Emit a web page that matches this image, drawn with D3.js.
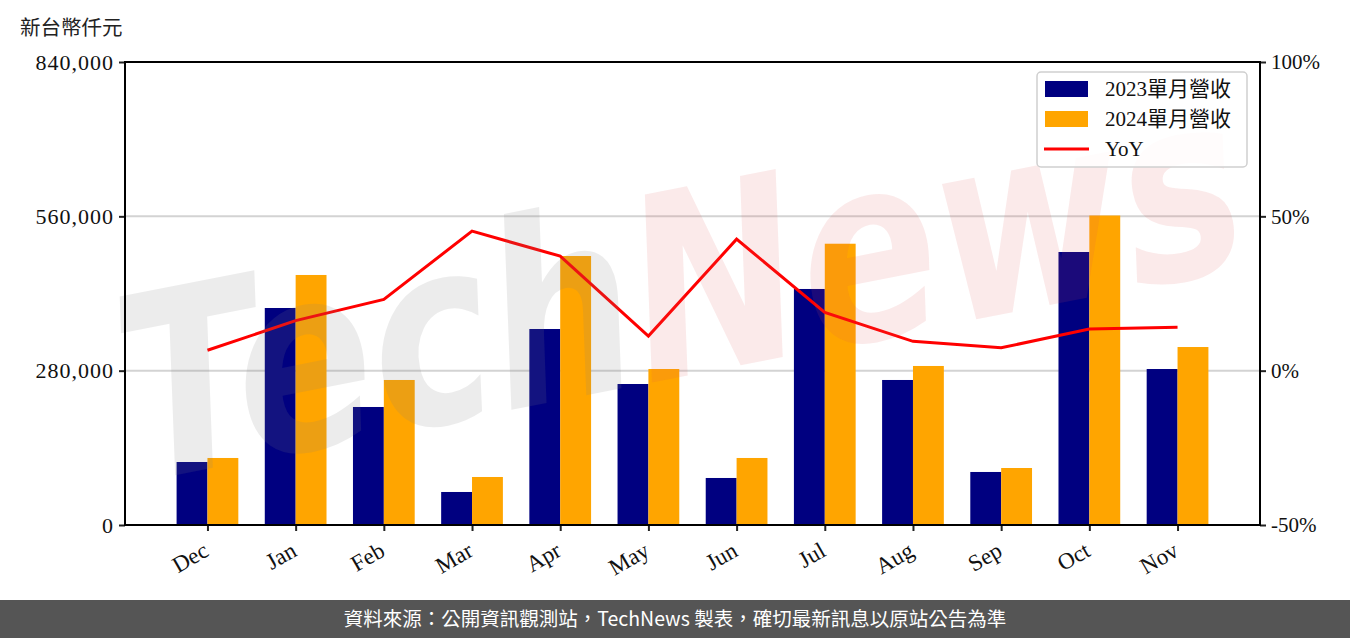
<!DOCTYPE html>
<html>
<head>
<meta charset="utf-8">
<script src="https://cdn.jsdelivr.net/npm/d3@7"></script>
<style>
  html, body { margin: 0; padding: 0; background: #fff; }
  svg { display: block; }
</style>
</head>
<body>
<svg id="chart" width="1350" height="638"></svg>
<script>
const categories = ["Dec","Jan","Feb","Mar","Apr","May","Jun","Jul","Aug","Sep","Oct","Nov"];
const rev2023 = [114300, 393700, 214100, 59900, 355600, 255800, 85300, 428200, 263100, 96200, 495300, 283000];
const rev2024 = [121600, 453600, 263100, 87100, 488000, 283000, 121600, 510300, 288500, 103400, 561500, 322900];
const yoy = [6.6, 16.2, 23.1, 45.2, 37.1, 11.2, 42.6, 18.9, 9.5, 7.4, 13.5, 14.1];
const leftTicks = [0, 280000, 560000, 840000];
const rightTicks = [-50, 0, 50, 100];
const seriesNames = ["2023單月營收", "2024單月營收", "YoY"];
const unitLabel = "新台幣仟元";
const footerText = "資料來源：公開資訊觀測站，TechNews 製表，確切最新訊息以原站公告為準";

const W = 1350, H = 638;
const plot = {left: 125, right: 1260, top: 62, bottom: 525};
const serif = "'Liberation Serif', 'Noto Sans CJK TC', serif";
const cjk = "'Noto Sans CJK TC', 'Noto Sans', sans-serif";

const svg = d3.select("#chart");

const barW = 0.35;
const x = d3.scaleLinear().domain([-0.935, 11.935]).range([plot.left, plot.right]);
const yL = d3.scaleLinear().domain([0, 840000]).range([plot.bottom, plot.top]);
const yR = d3.scaleLinear().domain([-50, 100]).range([plot.bottom, plot.top]);

// gridlines
svg.append("g").selectAll("line").data(leftTicks.slice(1, 3)).join("line")
  .attr("x1", plot.left).attr("x2", plot.right)
  .attr("y1", d => yL(d)).attr("y2", d => yL(d))
  .attr("stroke", "#d3d3d3").attr("stroke-width", 2);

// bars
const bars = svg.append("g");
bars.selectAll("rect.b23").data(rev2023).join("rect").attr("class", "b23")
  .attr("x", (d, i) => x(i - barW)).attr("width", (d, i) => x(i) - x(i - barW))
  .attr("y", d => yL(d)).attr("height", d => yL(0) - yL(d))
  .attr("fill", "#000080");
bars.selectAll("rect.b24").data(rev2024).join("rect").attr("class", "b24")
  .attr("x", (d, i) => x(i)).attr("width", (d, i) => x(i + barW) - x(i))
  .attr("y", d => yL(d)).attr("height", d => yL(0) - yL(d))
  .attr("fill", "#FFA500");

// YoY line
svg.append("path").datum(yoy)
  .attr("d", d3.line().x((d, i) => x(i)).y(d => yR(d)))
  .attr("fill", "none").attr("stroke", "#FF0000").attr("stroke-width", 3)
  .attr("stroke-linejoin", "miter");

// watermark
const wm = svg.append("g").attr("transform", "translate(140,482) rotate(-11)");
const wt = wm.append("text")
  .attr("transform", "scale(0.8,1.0)")
  .attr("font-family", "'DejaVu Sans', sans-serif")
  .attr("font-style", "italic").attr("font-weight", "bold")
  .attr("font-size", 255);
wt.append("tspan").text("Tech").attr("fill", "rgb(128,128,128)").attr("fill-opacity", 0.15);
wt.append("tspan").text("News").attr("fill", "rgb(220,80,80)").attr("fill-opacity", 0.12);

// axes
const axL = d3.axisLeft(yL).tickValues(leftTicks).tickFormat(d3.format(",")).tickSize(6).tickPadding(5);
const axR = d3.axisRight(yR).tickValues(rightTicks).tickFormat(d => d + "%").tickSize(6).tickPadding(5);
const axB = d3.axisBottom(x).tickValues(d3.range(categories.length)).tickFormat(i => categories[i]).tickSize(6).tickPadding(4);

function styleAxis(g) {
  g.select(".domain").remove();
  g.selectAll(".tick line").attr("stroke", "#222").attr("stroke-width", 2);
  g.selectAll(".tick text").attr("font-family", serif).attr("font-size", 21).attr("fill", "#111");
}
const gL = svg.append("g").attr("transform", `translate(${plot.left},0)`).call(axL).call(styleAxis);
gL.selectAll(".tick text").attr("font-size", 22).attr("letter-spacing", 1);
svg.append("g").attr("transform", `translate(${plot.right},0)`).call(axR).call(styleAxis);
const gB = svg.append("g").attr("transform", `translate(0,${plot.bottom})`).call(axB).call(styleAxis);
gB.selectAll(".tick text")
  .attr("font-size", 23)
  .attr("text-anchor", "end").attr("dy", "0.35em")
  .attr("transform", "translate(-2,23) rotate(-30)")
  .attr("y", 0).attr("x", 0);

// frame
svg.append("rect").attr("x", plot.left).attr("y", plot.top)
  .attr("width", plot.right - plot.left).attr("height", plot.bottom - plot.top)
  .attr("fill", "none").attr("stroke", "#000").attr("stroke-width", 2);

// unit label
svg.append("text").attr("x", 20).attr("y", 35).text(unitLabel)
  .attr("font-family", cjk).attr("font-size", 20.5).attr("fill", "#222");

// legend
const lg = svg.append("g");
lg.append("rect").attr("x", 1037).attr("y", 72).attr("width", 210).attr("height", 95)
  .attr("rx", 4).attr("fill", "rgba(255,255,255,0.85)").attr("stroke", "#cfcfcf").attr("stroke-width", 1.5);
const legendColors = ["#000080", "#FFA500", "#FF0000"];
seriesNames.forEach((name, k) => {
  const cy = 89 + k * 30;
  if (k < 2) {
    lg.append("rect").attr("x", 1045).attr("y", cy - 8).attr("width", 43).attr("height", 16).attr("fill", legendColors[k]);
  } else {
    lg.append("line").attr("x1", 1044).attr("x2", 1089).attr("y1", cy).attr("y2", cy)
      .attr("stroke", legendColors[k]).attr("stroke-width", 3);
  }
  lg.append("text").attr("x", 1105).attr("y", cy + 7).text(name)
    .attr("font-family", serif).attr("font-size", 21).attr("fill", "#111");
});

// footer
svg.append("rect").attr("x", 0).attr("y", 600).attr("width", W).attr("height", 38).attr("fill", "#555555");
svg.append("text").attr("x", W / 2).attr("y", 626).attr("text-anchor", "middle").text(footerText)
  .attr("font-family", cjk).attr("font-size", 19.5).attr("fill", "#fff");
</script>
</body>
</html>
